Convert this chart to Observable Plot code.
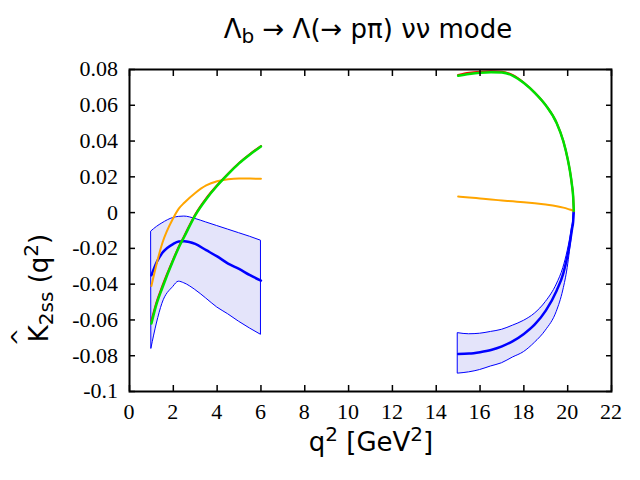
<!DOCTYPE html>
<html><head><meta charset="utf-8">
<script src="https://cdn.jsdelivr.net/npm/d3@7"></script>
<script src="https://cdn.jsdelivr.net/npm/@observablehq/plot@0.6"></script>
<style>
body{margin:0;background:#fff;}
#title{box-sizing:border-box;width:640px;height:50px;padding-left:96px;text-align:center;font-family:"DejaVu Sans";font-size:26px;line-height:58px;white-space:nowrap;overflow:visible;}
#title sub{font-size:20px;vertical-align:-5px;line-height:0;}
#chart svg{display:block;}
.tick-labels text{font-family:"Liberation Serif",serif;font-size:22px;}
</style></head><body>
<div id="title">Λ<sub>b</sub> → Λ(→ pπ) νν mode</div>
<div id="chart"></div>
<script>
// low-q² region
const qLow      = [1, 1.25, 1.5, 2, 2.25, 2.5, 3, 3.5, 4, 4.5, 5, 5.5, 6];
const greenLow  = [-0.062, -0.0505, -0.042, -0.0265, -0.0195, -0.0135, -0.0015, 0.0075, 0.015, 0.0215, 0.0275, 0.0325, 0.037];
const redLow    = [-0.0605, -0.0495, -0.041, -0.026, -0.019, -0.013, -0.001, 0.008, 0.0153, 0.0218, 0.0278, 0.0328, 0.0372];
const orangeLow = [-0.041, -0.028, -0.017, -0.003, 0.0022, 0.0055, 0.011, 0.0152, 0.0175, 0.0186, 0.019, 0.019, 0.0189];
const blueLow   = [-0.035, -0.0275, -0.0225, -0.0175, -0.0162, -0.016, -0.0175, -0.021, -0.0245, -0.0285, -0.0315, -0.035, -0.038];
const upperLow  = [-0.0105, -0.008, -0.006, -0.003, -0.0024, -0.0022, -0.0035, -0.0055, -0.0075, -0.0095, -0.0115, -0.0135, -0.0157];
const lowerLow  = [-0.076, -0.062, -0.051, -0.0415, -0.0386, -0.0395, -0.0432, -0.048, -0.053, -0.0568, -0.061, -0.0648, -0.0683];
// high-q² region
const qHigh      = [15, 15.5, 16, 16.5, 17, 17.5, 18, 18.5, 19, 19.5, 19.8, 20, 20.1, 20.2, 20.25, 20.28];
const greenHigh  = [0.0765, 0.0775, 0.0782, 0.0785, 0.0783, 0.0765, 0.0725, 0.067, 0.06, 0.05, 0.04, 0.03, 0.0235, 0.015, 0.009, 0.001];
const redHigh    = [0.077, 0.0782, 0.0788, 0.079, 0.0787, 0.0768, 0.0726, 0.067, 0.06, 0.05, 0.04, 0.03, 0.0235, 0.015, 0.009, 0.001];
const orangeHigh = [0.009, 0.0085, 0.0079, 0.0073, 0.0068, 0.0063, 0.0058, 0.0052, 0.0045, 0.0036, 0.0028, 0.0021, 0.0017, 0.0013, 0.001, 0.0008];
const blueHigh   = [-0.079, -0.0788, -0.078, -0.0768, -0.0748, -0.0718, -0.0678, -0.0625, -0.0548, -0.0435, -0.034, -0.0235, -0.017, -0.009, -0.005, 0.0008];
const upperHigh  = [-0.0674, -0.068, -0.0677, -0.0667, -0.0655, -0.0632, -0.0605, -0.0565, -0.05, -0.0402, -0.031, -0.0215, -0.0155, -0.008, -0.0045, 0.0008];
const lowerHigh  = [-0.09, -0.0893, -0.088, -0.086, -0.0842, -0.081, -0.078, -0.0728, -0.066, -0.0555, -0.0435, -0.031, -0.022, -0.012, -0.0065, 0.0008];
// ticks
const xTicks = [0, 2, 4, 6, 8, 10, 12, 14, 16, 18, 20, 22];
const yTicks = [-0.1, -0.08, -0.06, -0.04, -0.02, 0, 0.02, 0.04, 0.06, 0.08];
const yTickLabels = ["-0.1", "-0.08", "-0.06", "-0.04", "-0.02", "0", "0.02", "0.04", "0.06", "0.08"];

function rows(seg, qs, o) {
  return qs.map((q, i) => ({seg, q, green: o.green[i], red: o.red[i], orange: o.orange[i], blue: o.blue[i], upper: o.upper[i], lower: o.lower[i]}));
}
const data = [
  ...rows("low", qLow, {green: greenLow, red: redLow, orange: orangeLow, blue: blueLow, upper: upperLow, lower: lowerLow}),
  ...rows("high", qHigh, {green: greenHigh, red: redHigh, orange: orangeHigh, blue: blueHigh, upper: upperHigh, lower: lowerHigh})
];
const curve = "monotone-x";

const chart = Plot.plot({
  width: 640, height: 430,
  marginTop: 19, marginBottom: 89, marginLeft: 129, marginRight: 29,
  style: {background: "white", overflow: "visible"},
  x: {domain: [0, 22]},
  y: {domain: [-0.1, 0.08]},
  marks: [
    Plot.areaY(data, {x: "q", y1: "lower", y2: "upper", z: "seg", fill: "#e4e4fa", stroke: "#0000ff", strokeWidth: 1, curve}),
    Plot.line(data, {x: "q", y: "blue", z: "seg", stroke: "#0000ff", strokeWidth: 2.5, curve}),
    Plot.line(data, {x: "q", y: "orange", z: "seg", stroke: "#ffa500", strokeWidth: 2, curve}),
    Plot.line(data, {x: "q", y: "red", z: "seg", stroke: "#ff0000", strokeWidth: 2, curve}),
    Plot.line(data, {x: "q", y: "green", z: "seg", stroke: "#00e000", strokeWidth: 2.5, curve}),
    Plot.axisX(xTicks, {anchor: "bottom", tickSize: 6, dy: -6, tickFormat: () => "", label: null, strokeWidth: 1.5}),
    Plot.axisX(xTicks, {anchor: "top", tickSize: 6, dy: 6, tickFormat: () => "", label: null, strokeWidth: 1.5}),
    Plot.axisY(yTicks, {anchor: "left", tickSize: 6, dx: 6, tickFormat: () => "", label: null, strokeWidth: 1.5}),
    Plot.axisY(yTicks, {anchor: "right", tickSize: 6, dx: -6, tickFormat: () => "", label: null, strokeWidth: 1.5}),
    Plot.frame({stroke: "black", strokeWidth: 2})
  ]
});
document.getElementById("chart").appendChild(chart);

const svg = d3.select(chart);
const xs = chart.scale("x"), ys = chart.scale("y");
// tick labels placed through the chart's own scales
const labels = svg.append("g").attr("class", "tick-labels").attr("fill", "black");
labels.selectAll("text.xt").data(xTicks).join("text").attr("class", "xt")
  .attr("font-family", "Liberation Serif").attr("font-size", 22)
  .attr("x", d => xs.apply(d)).attr("y", 369).attr("text-anchor", "middle").text(d => String(d));
labels.selectAll("text.yt").data(yTicks).join("text").attr("class", "yt")
  .attr("font-family", "Liberation Serif").attr("font-size", 22)
  .attr("x", 118).attr("y", d => ys.apply(d)).attr("dy", "0.34em").attr("text-anchor", "end")
  .text((d, i) => yTickLabels[i]);

const yl = svg.append("text")
  .attr("transform", "translate(48,238) rotate(-90)")
  .attr("text-anchor", "middle")
  .attr("font-family", "DejaVu Sans").attr("font-size", 26).attr("fill", "black");
yl.append("tspan").text("K");
yl.append("tspan").attr("font-size", 20).attr("dy", 5).text("2ss");
yl.append("tspan").attr("dy", -5).text(" (q");
yl.append("tspan").attr("font-size", 20).attr("dy", -10).text("2");
yl.append("tspan").attr("dy", 10).text(")");
svg.append("text")
  .attr("transform", "translate(27,287) rotate(-90)")
  .attr("text-anchor", "middle")
  .attr("font-family", "DejaVu Sans").attr("font-size", 22).attr("fill", "black")
  .text("^");
const xl = svg.append("text")
  .attr("x", 371).attr("y", 401)
  .attr("text-anchor", "middle")
  .attr("font-family", "DejaVu Sans").attr("font-size", 26).attr("fill", "black");
xl.append("tspan").text("q");
xl.append("tspan").attr("font-size", 20).attr("dy", -10).text("2");
xl.append("tspan").attr("dy", 10).text(" [GeV");
xl.append("tspan").attr("font-size", 20).attr("dy", -10).text("2");
xl.append("tspan").attr("dy", 10).text("]");
</script>
</body></html>
